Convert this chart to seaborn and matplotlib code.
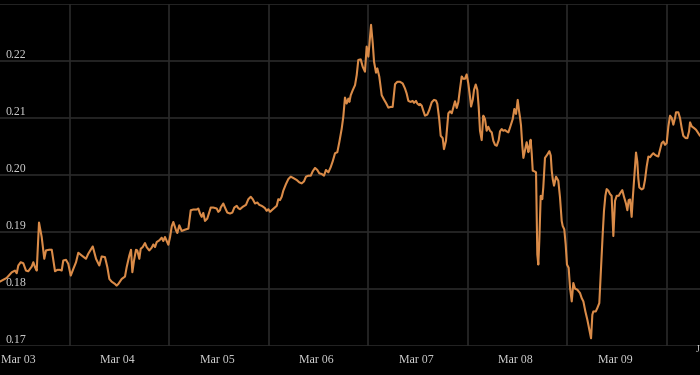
import matplotlib
matplotlib.use("Agg")
import matplotlib.pyplot as plt
import matplotlib.transforms as mtransforms
import pandas as pd
import seaborn as sns

# ---------------- data ----------------
start = "2024-03-02 19:40"   # left edge of the time axis

day_offset = [
    0.0, 0.017, 0.067, 0.118, 0.151, 0.168, 0.184, 0.208, 0.234, 0.261, 0.284, 0.319, 0.335,
    0.352, 0.369, 0.392, 0.419, 0.445, 0.462, 0.495, 0.520, 0.536, 0.553, 0.576, 0.603,
    0.620, 0.636, 0.663, 0.686, 0.711, 0.737, 0.764, 0.787, 0.821, 0.864, 0.887, 0.932,
    0.965, 0.998,
    1.022, 1.055, 1.079, 1.099, 1.122, 1.156, 1.172, 1.189, 1.223, 1.256, 1.273, 1.300,
    1.317, 1.330, 1.347, 1.367, 1.380, 1.400, 1.414, 1.434, 1.457, 1.474, 1.500, 1.524,
    1.541, 1.558, 1.575, 1.601, 1.625, 1.641, 1.658, 1.692, 1.709, 1.726, 1.742, 1.769,
    1.782, 1.802, 1.826, 1.859, 1.893, 1.917, 1.943, 1.977, 1.993, 2.010, 2.027, 2.043,
    2.060, 2.083, 2.118, 2.144, 2.178, 2.194, 2.211,
    2.218, 2.244, 2.261, 2.284, 2.312, 2.335, 2.355, 2.379, 2.395, 2.412, 2.439, 2.472,
    2.496, 2.520, 2.540, 2.563, 2.586, 2.606, 2.630, 2.646, 2.663, 2.680, 2.697, 2.714,
    2.731, 2.754, 2.781, 2.797, 2.814, 2.831, 2.847, 2.874, 2.898, 2.922, 2.948, 2.982,
    3.008, 3.032, 3.055, 3.075, 3.099, 3.123, 3.143, 3.166, 3.189, 3.209,
    3.233, 3.256, 3.276, 3.300, 3.323, 3.344, 3.367, 3.390, 3.410, 3.434, 3.450, 3.467,
    3.484, 3.501, 3.511, 3.525, 3.545, 3.568, 3.585, 3.601, 3.625, 3.645, 3.668, 3.685,
    3.702, 3.719, 3.729, 3.746, 3.759, 3.779, 3.792, 3.812, 3.836, 3.859, 3.879, 3.903,
    3.926, 3.946, 3.970, 3.993, 4.020, 4.047, 4.070, 4.087, 4.104, 4.127, 4.147, 4.161,
    4.181, 4.194, 4.214,
    4.221, 4.238, 4.254, 4.271, 4.294, 4.314, 4.339, 4.362, 4.382, 4.395, 4.415, 4.429,
    4.449, 4.462, 4.482, 4.495, 4.506, 4.523, 4.540, 4.556, 4.573, 4.590, 4.606, 4.623,
    4.640, 4.656, 4.673, 4.690, 4.707, 4.724, 4.734, 4.751, 4.764, 4.781, 4.797, 4.811,
    4.824, 4.841, 4.857, 4.874, 4.891, 4.907, 4.925, 4.942, 4.958, 4.975, 4.992, 5.012,
    5.025, 5.042, 5.058, 5.075, 5.092, 5.109, 5.126, 5.153, 5.169, 5.186, 5.203, 5.216,
    5.226,
    5.236, 5.249, 5.260, 5.276, 5.293, 5.310, 5.320, 5.333, 5.344, 5.354, 5.370, 5.387,
    5.394, 5.400, 5.410, 5.420, 5.434, 5.450, 5.460, 5.477, 5.501, 5.521, 5.535, 5.545,
    5.555, 5.568, 5.588, 5.611, 5.628, 5.645, 5.655, 5.671, 5.685, 5.698, 5.715, 5.729,
    5.746, 5.762, 5.779, 5.802, 5.829, 5.846, 5.863, 5.883, 5.903, 5.923, 5.940, 5.953,
    5.963, 5.987, 6.003, 6.023, 6.040, 6.057, 6.070, 6.084, 6.097, 6.114, 6.131, 6.147,
    6.164, 6.181, 6.198, 6.218, 6.231,
    6.254, 6.271, 6.291, 6.305, 6.318, 6.332, 6.348, 6.358, 6.372, 6.382, 6.392, 6.405,
    6.415, 6.425, 6.449, 6.466, 6.482, 6.499, 6.516, 6.533, 6.550, 6.566, 6.583, 6.600,
    6.616, 6.633, 6.650, 6.667, 6.683, 6.700, 6.717, 6.734, 6.751, 6.767, 6.784, 6.794,
    6.817, 6.834, 6.851, 6.867, 6.891, 6.908, 6.925, 6.935, 6.952, 6.975, 6.995, 7.018,
    7.035,
]

rate = [
    0.1813, 0.18147, 0.18194, 0.18293, 0.18323, 0.18276, 0.18412, 0.1847, 0.18452, 0.18323,
    0.18311, 0.18394, 0.1847, 0.18382, 0.18323, 0.19166, 0.18912, 0.1853, 0.18677, 0.18689,
    0.18689, 0.185, 0.18311, 0.18336, 0.18336, 0.18323, 0.185, 0.18512, 0.18442, 0.18235,
    0.18353, 0.1847, 0.18636, 0.18588, 0.1853, 0.18618, 0.18747, 0.1853, 0.18412,
    0.18571, 0.18559, 0.18382, 0.18176, 0.18129, 0.18088, 0.18059, 0.18088, 0.18176, 0.18218,
    0.18382, 0.18588, 0.18688, 0.18294, 0.185, 0.18688, 0.18676, 0.18529, 0.18706, 0.18735,
    0.18806, 0.18735, 0.18676, 0.18724, 0.18782, 0.18735, 0.18824, 0.18853, 0.189, 0.18841,
    0.18912, 0.18776, 0.18912, 0.191, 0.19176, 0.19029, 0.18982, 0.19118, 0.19018, 0.19041,
    0.19059, 0.19382, 0.19394, 0.19394, 0.19412, 0.19324, 0.19265, 0.19335, 0.19194, 0.19235,
    0.19429, 0.19429, 0.19412, 0.19353, 0.19382,
    0.19429, 0.195, 0.19429, 0.19341, 0.19324, 0.19341, 0.19429, 0.19459, 0.19418, 0.194,
    0.19441, 0.19476, 0.19576, 0.19618, 0.19576, 0.195, 0.19518, 0.19476, 0.19459, 0.19441,
    0.19418, 0.19371, 0.194, 0.19353, 0.19382, 0.19418, 0.19459, 0.19576, 0.19559, 0.19618,
    0.19724, 0.19841, 0.19929, 0.19971, 0.19947, 0.19912, 0.19871, 0.19853, 0.19888, 0.19971,
    0.19988, 0.19988, 0.20065, 0.20124, 0.20088, 0.20029,
    0.20018, 0.19988, 0.20088, 0.20047, 0.20135, 0.20241, 0.20382, 0.204, 0.20576, 0.20812,
    0.21018, 0.21359, 0.21253, 0.21341, 0.21282, 0.214, 0.21488, 0.21576, 0.21753, 0.22018,
    0.22029, 0.219, 0.21812, 0.22253, 0.22076, 0.22429, 0.22635, 0.22312, 0.21988, 0.21794,
    0.21871, 0.21724, 0.214, 0.21324, 0.21265, 0.21182, 0.21194, 0.21194, 0.21594, 0.21635,
    0.21635, 0.21606, 0.21518, 0.21429, 0.213, 0.21282, 0.213, 0.21265, 0.213, 0.21253,
    0.21224,
    0.21247, 0.21218, 0.21129, 0.21041, 0.21059, 0.21141, 0.21276, 0.21318, 0.21306, 0.21247,
    0.20965, 0.20688, 0.20647, 0.20453, 0.206, 0.20865, 0.21082, 0.21118, 0.21082, 0.21188,
    0.21294, 0.21176, 0.21276, 0.21512, 0.21729, 0.21688, 0.21688, 0.21765, 0.216, 0.21365,
    0.212, 0.21318, 0.21494, 0.21588, 0.21494, 0.21188, 0.20776, 0.20612, 0.21041, 0.20982,
    0.20776, 0.20847, 0.20776, 0.20747, 0.206, 0.20529, 0.20512, 0.20612, 0.20765, 0.20806,
    0.20776, 0.20788, 0.20765, 0.20747, 0.20835, 0.20982, 0.21159, 0.21071, 0.21318, 0.21129,
    0.21012,
    0.20871, 0.20518, 0.203, 0.2043, 0.20576, 0.204, 0.20488, 0.20618, 0.20371, 0.20076,
    0.20065, 0.20047, 0.19312, 0.18606, 0.18429, 0.18841, 0.19635, 0.19576, 0.19782, 0.203,
    0.20359, 0.20418, 0.20341, 0.20076, 0.19929, 0.19812, 0.19971, 0.199, 0.19606, 0.19194,
    0.19106, 0.19047, 0.18782, 0.18429, 0.18371, 0.18018, 0.17782, 0.18106, 0.18006, 0.17988,
    0.17929, 0.17841, 0.17782, 0.17606, 0.17459, 0.17282, 0.17135, 0.17547, 0.17606, 0.17606,
    0.17665, 0.17753, 0.18371, 0.18959, 0.19371, 0.19635, 0.19753, 0.19724, 0.19665, 0.19635,
    0.18929, 0.19547, 0.19635, 0.19635, 0.19676,
    0.19735, 0.19618, 0.195, 0.19382, 0.19559, 0.19571, 0.19265, 0.19559, 0.19912, 0.20147,
    0.20394, 0.20235, 0.19941, 0.19782, 0.19747, 0.19765, 0.19912, 0.20147, 0.20324, 0.20312,
    0.20353, 0.20382, 0.20353, 0.20335, 0.20324, 0.20441, 0.20559, 0.20588, 0.20529, 0.20559,
    0.20853, 0.21041, 0.21, 0.20882, 0.21, 0.211, 0.211, 0.21, 0.20824, 0.20688,
    0.20647, 0.20647, 0.20765, 0.20924, 0.20853, 0.20824, 0.20794, 0.20735, 0.20688,
]

x_label_days = ["2024-03-03", "2024-03-04", "2024-03-05", "2024-03-06",
                "2024-03-07", "2024-03-08", "2024-03-09"]
x_labels = ["Mar 03", "Mar 04", "Mar 05", "Mar 06", "Mar 07", "Mar 08", "Mar 09"]
y_ticks = [0.17, 0.18, 0.19, 0.20, 0.21, 0.22, 0.23]
y_labels = ["0.17", "0.18", "0.19", "0.20", "0.21", "0.22"]
span_days = 7.035

# ---------------- styling ----------------
BG = "#000000"
GRID = "#2a2a2a"
LINE = "#da8b48"
TEXT = "#d2d2d2"

sns.set_theme(style="dark", rc={"axes.facecolor": BG, "figure.facecolor": BG})
plt.rcParams["font.family"] = ["Liberation Serif", "DejaVu Serif"]

t0 = pd.Timestamp(start)
df = pd.DataFrame({
    "time": t0 + pd.to_timedelta(day_offset, unit="D"),
    "rate": rate,
})

fig = plt.figure(figsize=(7.0, 3.75), dpi=100, facecolor=BG)
ax = fig.add_axes([0.0, 29 / 375, 1.0, 342 / 375])
ax.set_facecolor(BG)

sns.lineplot(data=df, x="time", y="rate", ax=ax, color=LINE, linewidth=1.5,
             estimator=None, legend=False)

ax.set_xlim(t0, t0 + pd.Timedelta(days=span_days))
ax.set_ylim(0.17, 0.23)
ax.set_xlabel("")
ax.set_ylabel("")

label_pos = pd.to_datetime(x_label_days)
grid_pos = label_pos + pd.Timedelta(hours=12, minutes=30)
ax.set_xticks(label_pos)
ax.set_xticklabels(x_labels)
ax.set_xticks(grid_pos, minor=True)
ax.set_yticks(y_ticks)
ax.set_yticklabels([])

ax.xaxis.grid(False, which="major")
ax.xaxis.grid(True, which="minor", color=GRID, linewidth=1.2)
ax.yaxis.grid(True, which="major", color=GRID, linewidth=1.2)
ax.set_axisbelow(True)

ax.tick_params(axis="x", which="both", length=0, pad=6, labelsize=8.6, labelcolor=TEXT)
ax.tick_params(axis="y", which="both", length=0, left=False, labelleft=False)
for s in ax.spines.values():
    s.set_visible(False)

# y labels drawn inside the plot, just above their grid lines
trans = mtransforms.blended_transform_factory(ax.transAxes, ax.transData)
trans = trans + mtransforms.ScaledTranslation(0, 2 / 72, fig.dpi_scale_trans)
for v, lab in zip(y_ticks, y_labels):
    ax.text(5 / 700, v, lab, transform=trans, ha="left", va="baseline",
            fontsize=8.6, color=TEXT)

# clipped label at far right edge
fig.text(696 / 700, 1 - 350 / 375, "J", ha="left", va="center", fontsize=7, color=TEXT)

fig.savefig("out.png", dpi=100, facecolor=BG)
